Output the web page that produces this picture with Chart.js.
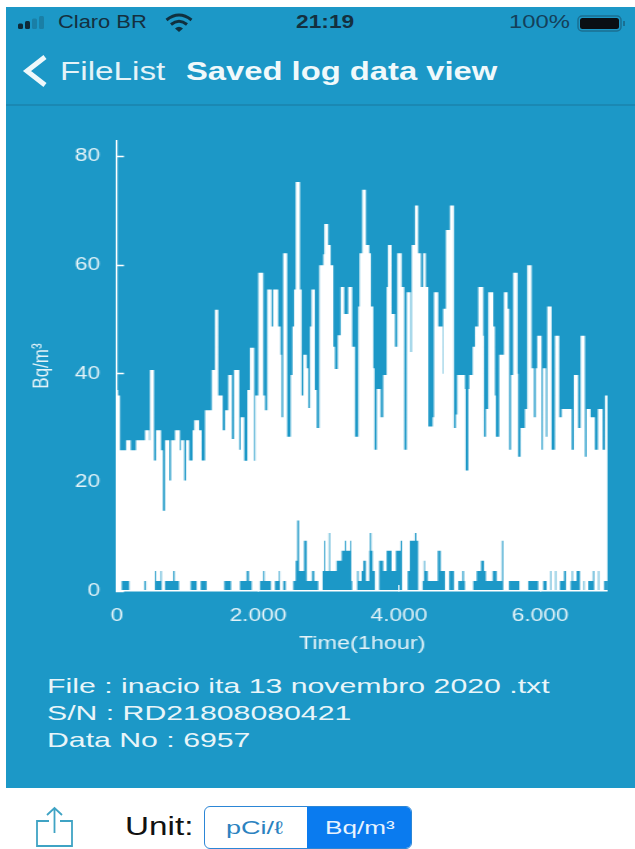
<!DOCTYPE html>
<html><head><meta charset="utf-8">
<script src="https://cdn.jsdelivr.net/npm/chart.js@4"></script>
<style>
html,body{margin:0;padding:0;background:#fff;width:635px;height:849px;overflow:hidden;font-family:"Liberation Sans",sans-serif}
#panel{position:absolute;left:6px;top:7px;width:629px;height:781px;background:#1c98c7}
#rule{position:absolute;left:6px;top:104px;width:629px;height:1.5px;background:#1a88b3}
.t{position:absolute;white-space:nowrap;transform-origin:0 0;line-height:1}
#chart{position:absolute;left:0;top:100px;transform-origin:0 0;transform:scaleX(1.3012)}
svg{position:absolute;overflow:visible}
#seg{position:absolute;left:204px;top:806px;width:208px;height:43px;box-sizing:border-box;border:1.5px solid #2c86d6;border-radius:6px;overflow:hidden;background:#fff}
#seg div{position:absolute;left:102px;top:0;width:106px;height:43px;background:#0a7bef}
</style></head><body>
<div id="panel"></div><div id="rule"></div>
<svg style="left:18px;top:15px" width="32" height="16"><rect x="0" y="8.5" width="5" height="5.5" rx="1.5" fill="#0e2a38"/><rect x="7" y="6" width="5" height="8" rx="1.5" fill="#0e2a38"/><rect x="14" y="3.5" width="5" height="10.5" rx="1.5" fill="#1a7fa6"/><rect x="21" y="1" width="5" height="13" rx="1.5" fill="#1a7fa6"/></svg>
<span class="t" style="left:58px;top:14px;font-size:17.5px;color:#14303f;transform:scaleX(1.25)">Claro BR</span>
<svg style="left:165px;top:13px" width="30" height="20"><path d="M1.5 7 Q14 -3 26.5 7" fill="none" stroke="#10303f" stroke-width="3"/><path d="M6 11.5 Q14 5 22 11.5" fill="none" stroke="#10303f" stroke-width="3"/><path d="M10 15.5 L14 19 L18 15.5 Q14 12 10 15.5Z" fill="#10303f"/></svg>
<span class="t" style="left:296px;top:14px;font-size:17.5px;font-weight:bold;color:#14303f;transform:scaleX(1.3)">21:19</span>
<span class="t" style="left:509px;top:14px;font-size:17.5px;color:#14405a;transform:scaleX(1.36)">100%</span>
<svg style="left:577px;top:15px" width="50" height="18"><rect x="1" y="1" width="43" height="15" rx="4" fill="none" stroke="#1a6f92" stroke-width="1.5"/><rect x="3" y="3" width="39" height="11" rx="2.5" fill="#0a0f14"/><rect x="46" y="6" width="2" height="5" fill="#1a6f92"/></svg>
<svg style="left:22px;top:54px" width="28" height="34"><polyline points="23,3 5,17 23,31" fill="none" stroke="#eef8fb" stroke-width="5"/></svg>
<span class="t" style="left:60px;top:59px;font-size:25px;color:#e4f3f8;transform:scaleX(1.33)">FileList</span>
<span class="t" style="left:186px;top:59px;font-size:25px;font-weight:bold;color:#f0f9fb;transform:scaleX(1.31)">Saved log data view</span>
<span class="t" style="left:47px;top:675px;font-size:21px;color:#e8f5f9;transform:scaleX(1.44)">File : inacio ita 13 novembro 2020 .txt</span>
<span class="t" style="left:47px;top:702px;font-size:21px;color:#e8f5f9;transform:scaleX(1.44)">S/N : RD21808080421</span>
<span class="t" style="left:47px;top:729px;font-size:21px;color:#e8f5f9;transform:scaleX(1.44)">Data No : 6957</span>
<canvas id="chart" width="488" height="560"></canvas>
<svg style="left:36px;top:806px" width="38" height="42"><path d="M13 15 H1 V40 H36 V15 H24" fill="none" stroke="#3fa3c4" stroke-width="1.8"/><path d="M18.5 27 V2 M11 9 L18.5 2 L26 9" fill="none" stroke="#3fa3c4" stroke-width="1.8"/></svg>
<span class="t" style="left:125px;top:814px;font-size:25px;color:#111;transform:scaleX(1.33)">Unit:</span>
<div id="seg"><div></div></div>
<span class="t" style="left:226px;top:819px;font-size:18px;color:#2b82c0;transform:scaleX(1.5)">pCi/ℓ</span>
<span class="t" style="left:325px;top:819px;font-size:18px;color:#e8f3fe;transform:scaleX(1.45)">Bq/m³</span>
<script>
const upperHours=[0,14,43,128,194,269,397,458,468,525,553,624,652,681,742,766,822,893,908,954,978,1025,1073,1096,1163,1201,1248,1343,1390,1436,1499,1531,1578,1630,1659,1734,1754,1805,1848,1886,1947,1961,2004,2075,2099,2131,2193,2215,2286,2320,2334,2357,2414,2463,2489,2510,2534,2595,2619,2642,2690,2713,2737,2758,2807,2832,2869,2926,2940,2996,3030,3067,3091,3130,3172,3223,3279,3336,3375,3422,3439,3478,3531,3578,3602,3635,3652,3683,3739,3776,3824,3843,3895,3942,3975,4037,4074,4108,4165,4179,4225,4272,4310,4343,4381,4414,4476,4495,4556,4618,4626,4664,4721,4778,4806,4825,4935,4945,4982,4996,5044,5077,5124,5195,5204,5232,5265,5336,5360,5374,5421,5488,5540,5563,5587,5619,5682,5690,5724,5785,5818,5880,5913,5937,5959,6021,6040,6083,6102,6164,6211,6272,6306,6448,6480,6541,6575,6636,6660,6717,6778,6820,6887,6920,6957];
const upperValues=[37,36,25.9,27.75,25.9,27.75,29.6,27.75,40.7,24.05,29.6,25.9,14.8,27.75,20.35,27.75,29.6,25.9,27.75,20.35,27.75,24.05,29.6,31.45,29.6,24.05,33.3,40.7,51.8,36,29.6,33.3,39.8,28,40.7,26,32,24,37,44.8,24,36,58.6,36,33.3,55.5,48.7,55.5,48.7,43.5,32,62.2,28.4,39.8,48.7,55.5,75.3,55.5,36,43.5,41,33.7,48.7,55.5,37,30,60,62,67.6,63.7,60,45,40.9,47.1,56,51,56,45,28.4,52.4,62.2,73.9,63.7,62.2,52.4,41,26,37.2,32,39.8,56,63.7,51,45,62.2,56,26,55,44,63.7,71,62.2,56,62.2,56,30.3,32,55,48.7,40,52,66.5,71,30,32.5,39.8,37.2,22.2,37.2,39.8,45,48.7,56,47,28.4,33.5,55,48.7,36,28.4,43.5,55,52,26,39.8,58.6,40,24.7,30,33.5,60,41,32,41,47,26,41,28.4,52.4,26,47,32,33.5,26,39.8,30,47,24.7,33.5,32,26,33.5,26,36,36];
const lowerHours=[0,67,174,387,411,539,553,620,634,681,798,818,879,1045,1130,1187,1272,1522,1617,1744,1839,1872,1910,2028,2075,2092,2184,2240,2297,2311,2358,2392,2500,2534,2557,2581,2652,2690,2765,2798,2855,2917,2936,2950,3006,3020,3115,3186,3233,3247,3308,3322,3336,3407,3424,3470,3493,3531,3578,3587,3606,3625,3658,3719,3776,3824,3895,3956,4023,4041,4122,4154,4225,4246,4272,4335,4353,4367,4406,4548,4590,4651,4712,4778,4840,4899,4920,4935,5053,5101,5162,5204,5232,5328,5385,5459,5478,5559,5705,5832,5974,6045,6093,6144,6157,6215,6228,6282,6339,6367,6433,6452,6466,6518,6565,6618,6631,6683,6750,6768,6824,6837,6909,6957];
const lowerValues=[0,1.85,0,1.85,0,3.7,1.85,3.7,0,1.85,3.7,1.85,0,1.85,0,1.85,0,1.85,0,1.85,3.7,1.85,0,1.85,3.7,1.85,0,1.85,3.7,0,1.85,0,1.85,5.55,13,3.7,9.25,1.85,3.7,1.85,0,3.7,9.25,3.7,10.7,3.7,5.55,7.4,9.25,7.4,9.25,1.85,0,3.7,1.85,3.7,5.55,1.85,7.4,10.7,7.4,3.7,0,5.55,3.7,7.4,3.7,7.4,9.25,0,3.7,9.25,10.7,9.25,0,1.85,5.55,3.7,1.85,7.4,3.7,0,3.7,0,1.85,3.7,1.85,0,1.85,3.7,5.55,3.7,1.85,3.7,1.85,9.25,0,1.85,0,1.85,0,1.85,0,3.7,0,3.7,0,1.85,3.7,0,1.85,3.7,1.85,3.7,0,1.85,0,1.85,3.7,0,3.7,0,1.85,1.85];
const yTicks=[0,20,40,60,80];
const xTicks=[0,2000,4000,6000];
const yTitle='Bq/m³', xTitle='Time(1hour)';
const BLUE='#1c98c7', WHITE='#ffffff', LABEL='#e4f3f8';
const pts=(xs,ys)=>xs.map((x,i)=>({x,y:ys[i]}));
new Chart(document.getElementById('chart'),{
 type:'line',
 data:{datasets:[
  {label:'max',data:pts(upperHours,upperValues),stepped:true,fill:'origin',backgroundColor:WHITE,borderWidth:0,pointRadius:0,order:2},
  {label:'min',data:pts(lowerHours,lowerValues),stepped:true,fill:'origin',backgroundColor:BLUE,borderWidth:0,pointRadius:0,order:1}
 ]},
 options:{
  responsive:false,animation:false,devicePixelRatio:1,
  layout:{padding:{left:0,right:21.1,top:41,bottom:0}},
  plugins:{legend:{display:false},tooltip:{enabled:false}},
  scales:{
   x:{type:'linear',min:0,max:6957,
    afterBuildTicks(s){s.ticks=xTicks.map(v=>({value:v}));},
    afterFit(s){s.height=69;},
    border:{color:WHITE,width:1.5,z:1},
    grid:{drawOnChartArea:false,drawTicks:true,tickLength:-6,tickColor:WHITE,tickWidth:1,z:1},
    ticks:{autoSkip:false,maxRotation:0,color:LABEL,font:{family:'"Liberation Sans"',size:17.5},padding:21,
     callback:v=>String(v).replace(/\B(?=(\d{3})+$)/g,'.')},
    title:{display:true,text:xTitle,color:LABEL,font:{family:'"Liberation Sans"',size:18},padding:{top:0,bottom:5}}
   },
   y:{type:'linear',min:0,max:82.87,
    afterBuildTicks(s){s.ticks=yTicks.map(v=>({value:v}));},
    afterFit(s){s.width=89.9;},
    border:{color:WHITE,width:1.2,z:1},
    grid:{drawOnChartArea:false,drawTicks:true,tickLength:-5.4,tickColor:WHITE,tickWidth:1.5,z:1},
    ticks:{color:LABEL,font:{family:'"Liberation Sans"',size:17.5},padding:18.4},
    title:{display:true,text:yTitle,color:LABEL,font:{family:'"Liberation Sans"',size:17},padding:{top:22,bottom:0}}
   }
  }
 }
});
</script>
</body></html>
